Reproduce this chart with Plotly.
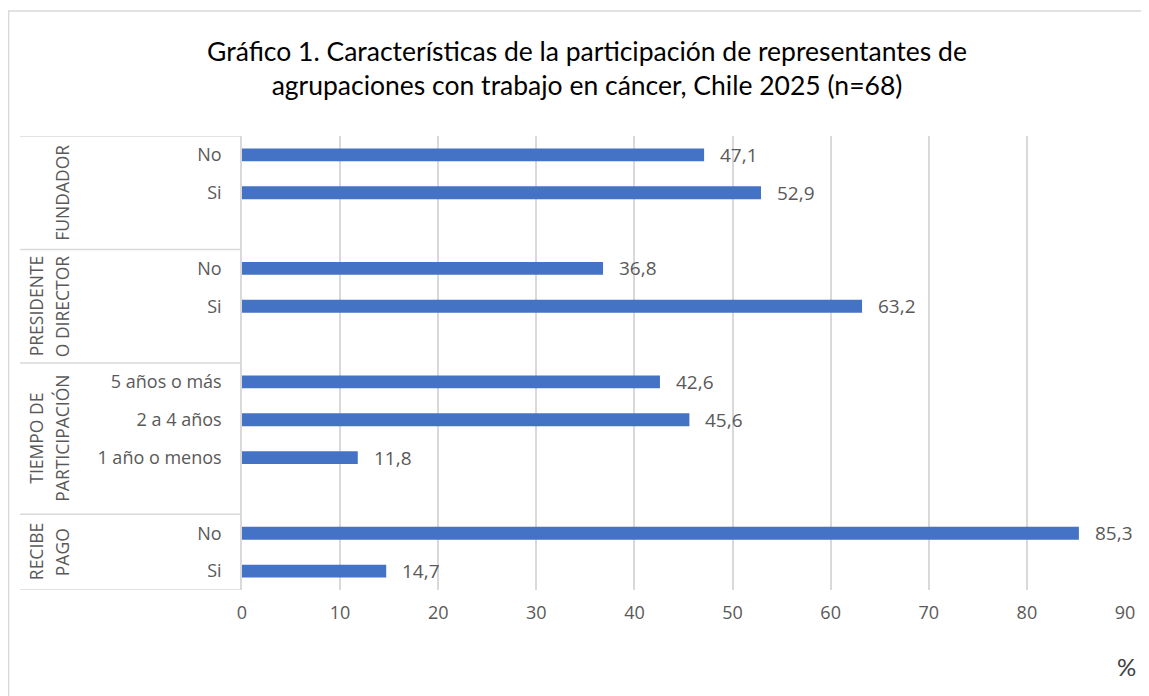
import plotly.graph_objects as go

# datos del gráfico (porcentajes)
group_labels = ["FUNDADOR", "PRESIDENTE<br>O DIRECTOR", "TIEMPO DE<br>PARTICIPACIÓN", "RECIBE<br>PAGO"]
fundador_cats = ["No", "Si"]
fundador_vals = [47.1, 52.9]
presidente_cats = ["No", "Si"]
presidente_vals = [36.8, 63.2]
tiempo_cats = ["5 años o más", "2 a 4 años", "1 año o menos"]
tiempo_vals = [42.6, 45.6, 11.8]
pago_cats = ["No", "Si"]
pago_vals = [85.3, 14.7]
x_ticks = [0, 10, 20, 30, 40, 50, 60, 70, 80, 90]

groups = [
    (fundador_cats, fundador_vals),
    (presidente_cats, presidente_vals),
    (tiempo_cats, tiempo_vals),
    (pago_cats, pago_vals),
]

# la página tiene 8 px de margen, la figura ocupa el resto de la ventana
OFF = 8
W, H = 1149 - OFF, 696 - OFF
BLUE = "#4472C4"
GRID = "#d9d9d9"
TXT = "#595959"
FONT = "Open Sans"


def fx(p):
    return (p - OFF) / W


def fy(p):
    return 1 - (p - OFF) / H


# posiciones de cada fila (con una fila vacía tras cada grupo, como en Excel)
ys, vals, labels = [], [], []
bounds = [-0.5]
pos = 0
for i, (cats, v) in enumerate(groups):
    for c, val in zip(cats, v):
        ys.append(pos)
        vals.append(val)
        labels.append(c)
        pos += 1
    if i < len(groups) - 1:
        pos += 1
    bounds.append(pos - 0.5)

fig = go.Figure()
fig.add_trace(go.Bar(
    x=vals, y=ys, orientation="h",
    marker=dict(color=BLUE, line=dict(width=0)),
    width=0.34,
    hoverinfo="x+text", hovertext=labels,
))

# etiquetas de datos
for yv, xv in zip(ys, vals):
    fig.add_annotation(
        x=xv, y=yv, xref="x", yref="y",
        text=f"{xv:.1f}".replace(".", ","),
        showarrow=False, xanchor="left", xshift=14,
        font=dict(family=FONT, size=19, color=TXT),
    )

# etiquetas de grupo rotadas, una anotación por línea
for i, g in enumerate(group_labels):
    lines = g.split("<br>")
    for j, ln in enumerate(lines):
        fig.add_annotation(
            x=fx(62 - 26 * (len(lines) - 1 - j)), y=(bounds[i] + bounds[i + 1]) / 2,
            xref="paper", yref="y",
            text=ln, textangle=-90, showarrow=False, xanchor="center", yanchor="middle",
            font=dict(family=FONT, size=17.5, color=TXT),
        )

# líneas de separación de grupos
for b in bounds:
    fig.add_shape(type="line", xref="paper", yref="y", x0=fx(20), x1=fx(242), y0=b, y1=b,
                  line=dict(color=GRID, width=1.5))

# borde del área del gráfico
fig.add_shape(type="rect", xref="paper", yref="paper", x0=0.6 / W, x1=1.02, y0=-0.02, y1=fy(11),
              line=dict(color=GRID, width=1.5))

fig.add_annotation(
    x=fx(1126), y=fy(666), xref="paper", yref="paper", text="%", showarrow=False,
    xanchor="center", yanchor="middle",
    font=dict(family="Lato", size=24, color="#404040"),
)

fig.update_layout(
    width=W, height=H,
    margin=dict(l=0, r=0, t=0, b=0),
    paper_bgcolor="white", plot_bgcolor="white",
    showlegend=False,
    title=dict(
        text="Gráfico 1. Características de la participación de representantes de<br>agrupaciones con trabajo en cáncer, Chile 2025 (n=68)",
        x=fx(587), xanchor="center", y=1 - 52.5 / H, yanchor="middle",
        font=dict(family="Lato", size=26.5, color="black"),
    ),
    xaxis=dict(
        domain=[fx(242), fx(1125)], range=[0, 90], tickvals=x_ticks,
        showgrid=True, gridcolor=GRID, gridwidth=1.5, zeroline=False,
        showline=False, ticks="", ticklabelstandoff=10, automargin=False,
        tickfont=dict(family=FONT, size=18, color=TXT),
    ),
    yaxis=dict(
        domain=[fy(590), fy(136)], range=[pos - 0.5, -0.5],
        tickvals=ys, ticktext=labels,
        showgrid=False, zeroline=False,
        showline=True, linecolor=GRID, linewidth=1.5,
        ticks="", ticklabelstandoff=15, automargin=False,
        tickfont=dict(family=FONT, size=18, color=TXT),
    ),
)

fig.write_html("out.html")
